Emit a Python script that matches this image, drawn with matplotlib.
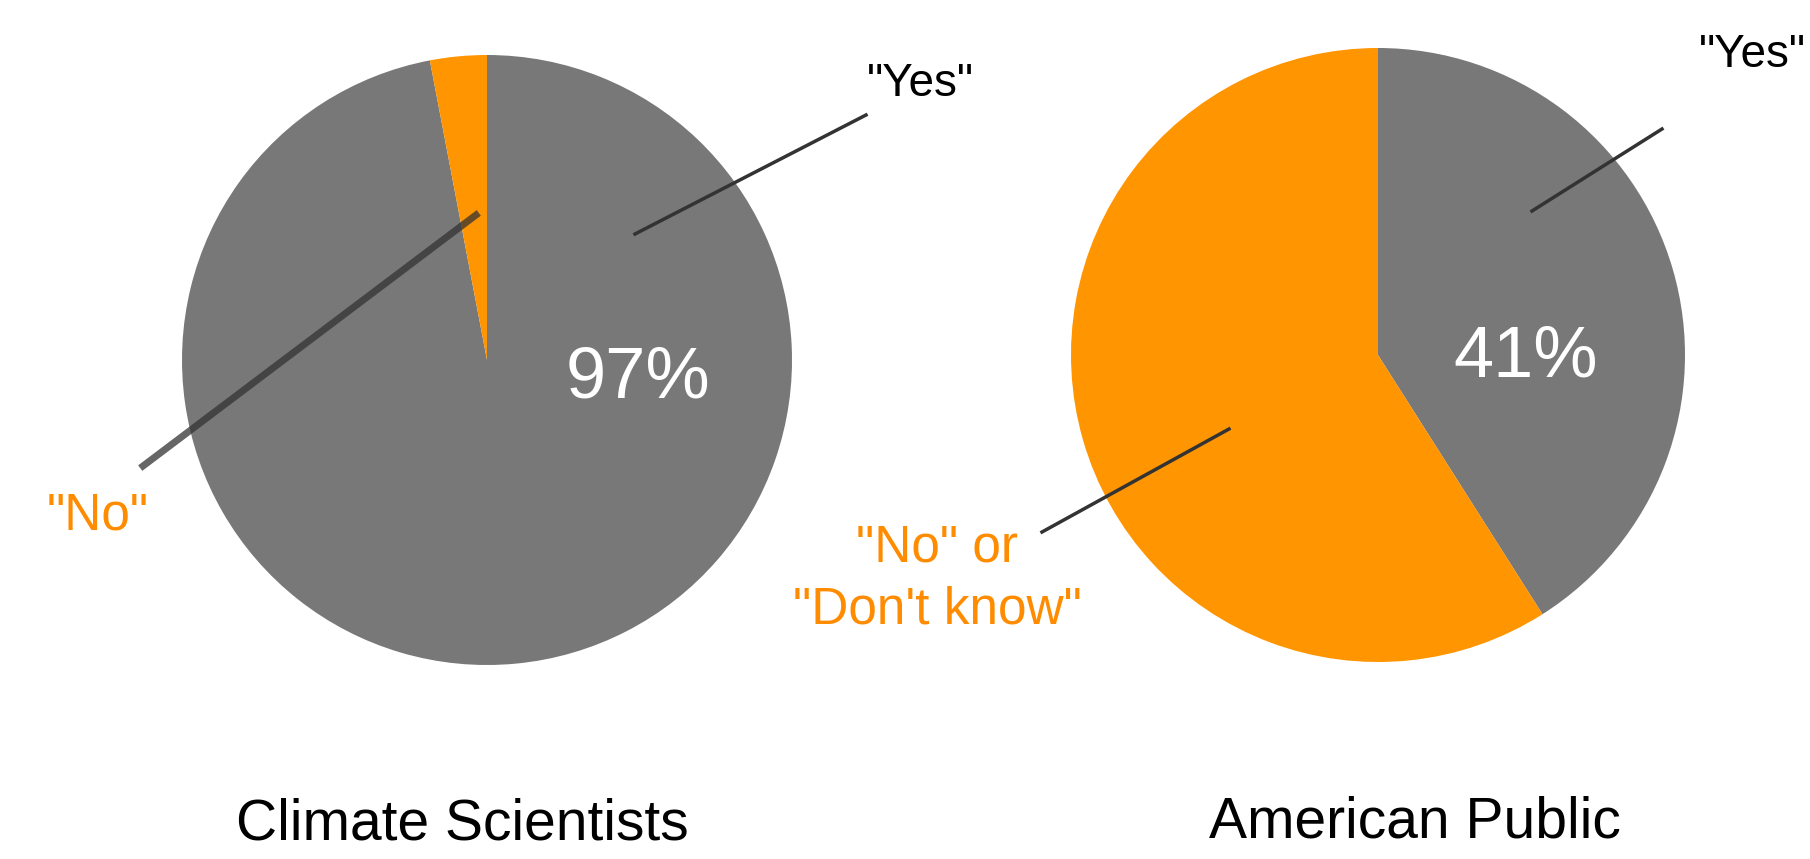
import matplotlib.pyplot as plt

# data
groups = ['Climate Scientists', 'American Public']
yes_pct = [97, 41]
no_pct = [3, 59]
no_labels = ['"No"', '"No" or\n"Don\'t know"']

gray = '#787878'
orange = '#FF9500'
txt_orange = '#FF8C00'

plt.rcParams['font.family'] = ['Liberation Sans', 'DejaVu Sans']

fig = plt.figure(figsize=(18.1, 8.59), dpi=100)
ax = fig.add_axes([0, 0, 1, 1])

centers = [(487, 360), (1378, 355)]
radius = [305, 307]

# y axis is flipped (pixel coords), so start at -90 and go "counterclock"
for i in range(2):
    ax.pie([yes_pct[i], no_pct[i]], colors=[gray, orange], startangle=-90,
           counterclock=True, center=centers[i], radius=radius[i],
           wedgeprops=dict(linewidth=0), frame=True)
ax.set_xlim(0, 1810)
ax.set_ylim(859, 0)
ax.set_aspect('equal')
ax.axis('off')

# left pie labels
ax.text(638, 379, f'{yes_pct[0]}%', color='white', fontsize=52,
        ha='center', va='center')
ax.text(920, 84, '"Yes"', fontsize=33, ha='center', va='center')
ax.plot([866, 635], [115, 234], color='#333333', lw=2.5)
ax.text(98, 516, no_labels[0], color=txt_orange, fontsize=37,
        ha='center', va='center')
ax.plot([143, 476], [466, 215], color='#333333', lw=5, alpha=0.75)

# right pie labels
ax.text(1526, 358, f'{yes_pct[1]}%', color='white', fontsize=52,
        ha='center', va='center')
ax.text(1752, 55, '"Yes"', fontsize=33, ha='center', va='center')
ax.plot([1662, 1532], [129, 211], color='#333333', lw=2.5)
ax.text(937, 579, no_labels[1], color=txt_orange, fontsize=37,
        ha='center', va='center', linespacing=1.35)
ax.plot([1042, 1229], [532, 429], color='#333333', lw=2.5)

# titles
ax.text(462, 825, groups[0], fontsize=41, ha='center', va='center')
ax.text(1415, 822, groups[1], fontsize=41, ha='center', va='center')

plt.savefig('out.png', dpi=100)
